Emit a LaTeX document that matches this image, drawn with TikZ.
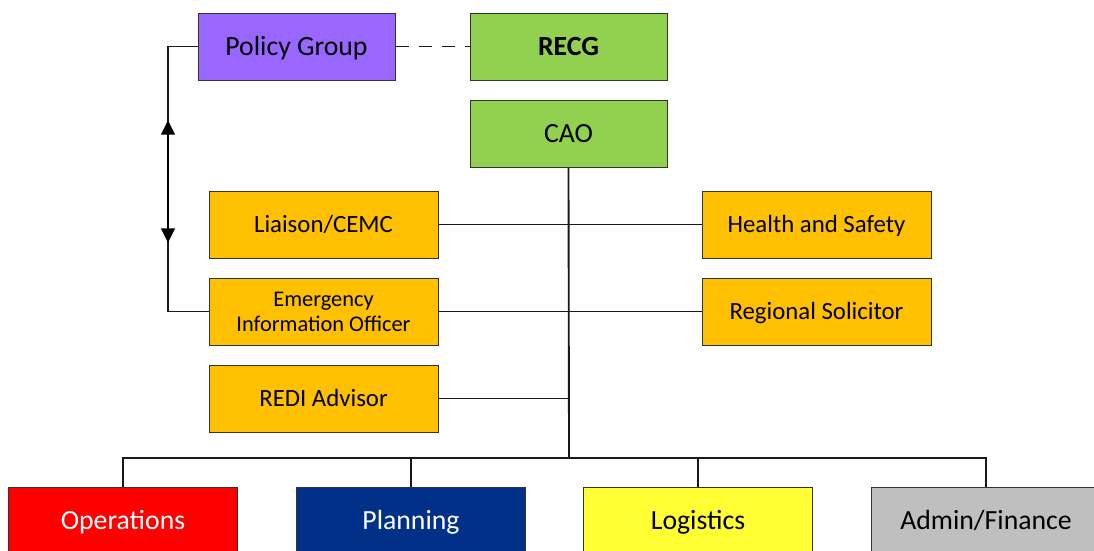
\documentclass[tikz,border=0pt]{standalone}
\usepackage{fontspec}
\setmainfont{Carlito}
\usetikzlibrary{arrows.meta}
\definecolor{cpurple}{HTML}{9966FF}
\definecolor{cgreen}{HTML}{92D050}
\definecolor{corange}{HTML}{FFC000}
\definecolor{cred}{HTML}{FF0000}
\definecolor{cnavy}{HTML}{003087}
\definecolor{cyellow}{HTML}{FFFF33}
\definecolor{cgrey}{HTML}{BFBFBF}
\begin{document}
\begin{tikzpicture}[x=0.75pt,y=-0.75pt,
  box/.style={draw=black!80, line width=0.6pt, inner sep=0pt, minimum height=50.25pt, align=center, font=\fontsize{20.8}{24}\selectfont, text height=13.4pt, text depth=0pt},
  narrow/.style={box, minimum width=147.75pt},
  wide/.style={box, minimum width=171.75pt},
  side/.style={wide, fill=corange, font=\fontsize{18.6}{22}\selectfont, text height=12pt},
  conn/.style={draw=black!90, line width=1.4pt}]
\useasboundingbox (0,0) rectangle (1094,550);
\node[narrow, fill=cpurple] (pg) at (296.5,46.5) {Policy Group};
\node[narrow, fill=cgreen, font=\fontsize{20.8}{24}\selectfont\bfseries] (recg) at (568.5,46.5) {RECG};
\node[narrow, fill=cgreen] (cao) at (568.5,134) {CAO};
\node[side] (liaison) at (323.5,224.5) {Liaison/CEMC};
\node[side] (hs) at (816.5,224.5) {Health and Safety};
\node[side, font=\fontsize{16.8}{18.75}\selectfont, text height=29.55pt] (eio) at (323.5,311.5) {Emergency\\Information Officer};
\node[side] (rs) at (816.5,311.5) {Regional Solicitor};
\node[side] (redi) at (323.5,398.5) {REDI Advisor};
\node[wide, fill=cred, text=white] (ops) at (123,520.5) {Operations};
\node[wide, fill=cnavy, text=white] (plan) at (411,520.5) {Planning};
\node[wide, fill=cyellow] (log) at (698,520.5) {Logistics};
\node[wide, fill=cgrey] (adm) at (986,520.5) {Admin/Finance};
\coordinate (bus) at (569,458);
\coordinate (lx) at (168,0);
\coordinate (atop) at (168,120);
\coordinate (abot) at (168,243);
% connectors
\draw[conn, dash pattern=on 10pt off 7.5pt] (pg.east) -- (recg.west);
\draw[conn] (cao.south) -- (bus);
\draw[conn] (liaison.east) -- (hs.west);
\draw[conn] (eio.east) -- (rs.west);
\draw[conn] (redi.east) -- (redi.east -| bus);
\draw[conn] (ops.north) |- (bus) -| (adm.north);
\draw[conn] (plan.north) -- (plan.north |- bus);
\draw[conn] (log.north) -- (log.north |- bus);
\draw[conn] (pg.west) -- (pg.west -| lx) -- (eio.west -| lx) -- (eio.west);
\draw[line width=2.2pt, {Triangle[length=11pt,width=10pt]}-{Triangle[length=11pt,width=10pt]}] (atop) -- (abot);
\end{tikzpicture}
\end{document}
